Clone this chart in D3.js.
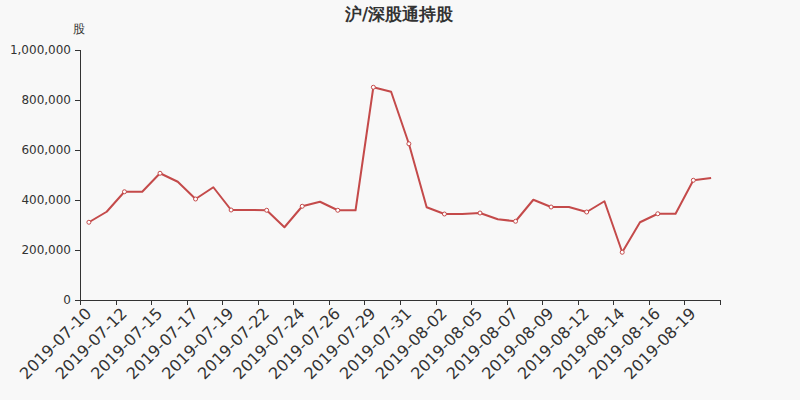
<!DOCTYPE html>
<html><head><meta charset="utf-8">
<script src="https://cdn.jsdelivr.net/npm/d3@7"></script>
<style>html,body{margin:0;padding:0;background:#f8f8f8;}svg{display:block;}</style>
</head><body>
<svg id="c" width="800" height="400"></svg>
<script>
const dates = ["2019-07-10","2019-07-11","2019-07-12","2019-07-13","2019-07-15","2019-07-16","2019-07-17","2019-07-18","2019-07-19","2019-07-20","2019-07-22","2019-07-23","2019-07-24","2019-07-25","2019-07-26","2019-07-27","2019-07-29","2019-07-30","2019-07-31","2019-08-01","2019-08-02","2019-08-03","2019-08-05","2019-08-06","2019-08-07","2019-08-08","2019-08-09","2019-08-10","2019-08-12","2019-08-13","2019-08-14","2019-08-15","2019-08-16","2019-08-17","2019-08-19","2019-08-20"];
const holdings = [311000,353000,433000,433000,507000,473000,404000,451000,360000,360000,359000,291000,375000,393000,359000,359000,851000,833000,625000,371000,344000,344000,348000,323000,315000,401000,372000,372000,352000,395000,191000,311000,345000,345000,479000,488000];
const yTicks = [0,200000,400000,600000,800000,1000000];
const title = "沪/深股通持股";
const yName = "股";

const svg = d3.select("#c");
const W=800,H=400, L=80,R=720,T=50,B=300;
const font = "DejaVu Sans, sans-serif";
const lineColor = "#c44a4a";
svg.append("rect").attr("width",W).attr("height",H).attr("fill","#f8f8f8");

const x = d3.scaleBand().domain(dates).range([L,R]);
const y = d3.scaleLinear().domain([0,1000000]).range([B,T]);

svg.append("text").attr("x",399).attr("y",20).attr("text-anchor","middle")
  .attr("font-family",font).attr("font-size",17).attr("font-weight","bold").attr("fill","#333").text(title);
svg.append("text").attr("x",79).attr("y",33).attr("text-anchor","middle")
  .attr("font-family",font).attr("font-size",12).attr("fill","#333").text(yName);

const fmt = d3.format(",");
const ya = svg.append("g").attr("transform",`translate(${L},0)`)
  .call(d3.axisLeft(y).tickValues(yTicks).tickFormat(fmt).tickSize(5).tickPadding(4));
ya.select(".domain").attr("stroke","#333").attr("d",`M0.5,${T}V${B}`);
ya.selectAll(".tick line").attr("stroke","#333");
ya.selectAll(".tick text").attr("font-family",font).attr("font-size",12).attr("fill","#333");

const xa = svg.append("g").attr("transform",`translate(0,${B})`);
xa.append("path").attr("d",`M${L},0.5H${R}`).attr("stroke","#333").attr("fill","none");
const bounds = d3.range(0, dates.length+1, 2).map(i=>L + i*x.step());
xa.selectAll("line.t").data(bounds).enter().append("line")
  .attr("x1",d=>Math.round(d)+0.5).attr("x2",d=>Math.round(d)+0.5).attr("y1",0).attr("y2",5).attr("stroke","#333");
const labeled = dates.filter((d,i)=>i%2===0);
xa.selectAll("text.l").data(labeled).enter().append("text")
  .attr("transform",d=>`translate(${x(d)+x.bandwidth()/2-0.5},10.5) rotate(-45)`)
  .attr("text-anchor","end").attr("dy","0.35em")
  .attr("font-family",font).attr("font-size",16).attr("fill","#333").text(d=>d);

const line = d3.line().x((d,i)=>x(dates[i])+x.bandwidth()/2).y(d=>y(d));
svg.append("path").datum(holdings).attr("d",line).attr("fill","none")
  .attr("stroke",lineColor).attr("stroke-width",2).attr("stroke-linejoin","round");
svg.selectAll("circle.m").data(holdings.map((v,i)=>({v,i})).filter(d=>d.i%2===0)).enter().append("circle")
  .attr("cx",d=>x(dates[d.i])+x.bandwidth()/2).attr("cy",d=>y(d.v)).attr("r",2)
  .attr("fill","#fff").attr("stroke",lineColor).attr("stroke-width",1);
</script>
</body></html>
